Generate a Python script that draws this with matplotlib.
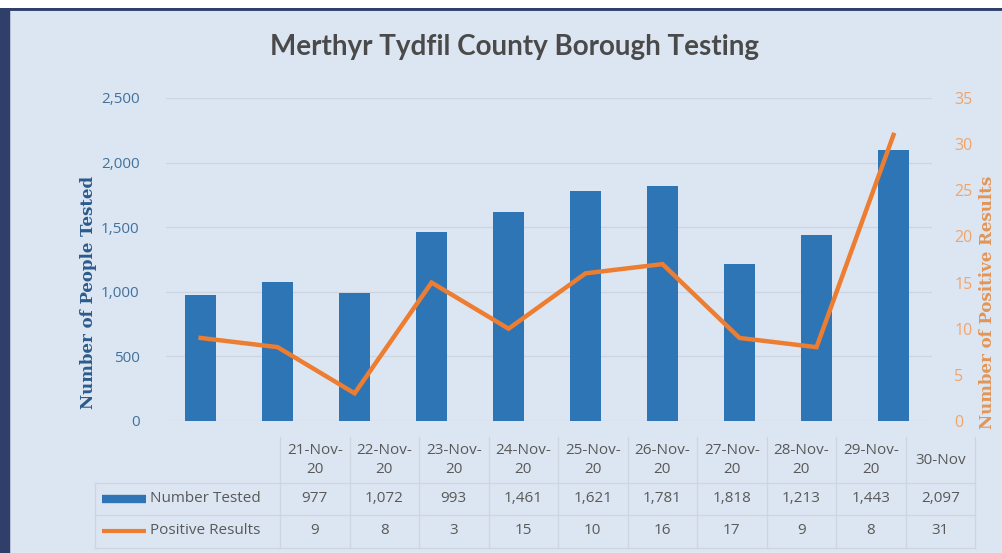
import matplotlib.pyplot as plt
import numpy as np

# data
dates = ["21-Nov-\n20", "22-Nov-\n20", "23-Nov-\n20", "24-Nov-\n20", "25-Nov-\n20",
         "26-Nov-\n20", "27-Nov-\n20", "28-Nov-\n20", "29-Nov-\n20", "30-Nov"]
number_tested = [977, 1072, 993, 1461, 1621, 1781, 1818, 1213, 1443, 2097]
positive_results = [9, 8, 3, 15, 10, 16, 17, 9, 8, 31]

bg = "#dce6f2"
bar_col = "#2e75b6"
line_col = "#ed7d31"
grid_col = "#cdd5e1"
blue_txt = "#41719c"
orange_txt = "#f0a46a"

W, H = 1003, 553
fig = plt.figure(figsize=(W / 100, H / 100), dpi=100)
fig.patch.set_facecolor("white")

# light blue panel with navy border on top/left
panel = fig.add_axes([0, 0, 1, 1 - 8 / H])
panel.set_xlim(0, 1)
panel.set_ylim(0, 1)
panel.axis("off")
panel.add_patch(plt.Rectangle((0, 0), 1, 1, transform=panel.transAxes, color=bg, zorder=0))
panel.axhline(1, color="#2f3f6a", lw=3.5)
panel.axvline(0, color="#2f3f6a", lw=14)

def px(x0, y0, x1, y1):
    return [x0 / W, 1 - y1 / H, (x1 - x0) / W, (y1 - y0) / H]

ax = fig.add_axes(px(166, 98, 932, 421))
ax.set_facecolor("none")
x = np.arange(len(number_tested))
ax.bar(x, number_tested, width=0.41, color=bar_col, zorder=2)
ax.set_xlim(-0.45, 9.5)
ax.set_ylim(0, 2500)
ax.set_yticks(range(0, 2501, 500))
ax.set_yticklabels([f"{v:,}" for v in range(0, 2501, 500)], color=blue_txt,
                   fontsize=11, family="Open Sans")
ax.set_xticks([])
ax.tick_params(axis="y", length=0, pad=19)
ax.grid(axis="y", color=grid_col, lw=1, zorder=0)
for s in ax.spines.values():
    s.set_visible(False)

ax2 = ax.twinx()
ax2.plot(x, positive_results, color=line_col, lw=3.2, zorder=3, solid_joinstyle="miter")
ax2.set_ylim(0, 35)
ax2.set_yticks(range(0, 36, 5))
ax2.set_yticklabels([str(v) for v in range(0, 36, 5)], color=orange_txt,
                    fontsize=11.5, family="Open Sans")
ax2.tick_params(axis="y", length=0, pad=16)
for s in ax2.spines.values():
    s.set_visible(False)

fig.text(89 / W, 1 - 292 / H, "Number of People Tested", rotation=90, ha="center",
         va="center", color="#2b5a8c", fontsize=12, family="DejaVu Serif",
         fontweight="bold")
fig.text(988 / W, 1 - 302 / H, "Number of Positive Results", rotation=90, ha="center",
         va="center", color="#e39556", fontsize=12, family="DejaVu Serif",
         fontweight="bold")

fig.text(515 / W, 1 - 47 / H, "Merthyr Tydfil County Borough Testing", ha="center",
         va="center", fontsize=20, fontweight="bold", color="#4a4a4a", family="Lato")

# data table below the plot
tab = fig.add_axes(px(90, 432, 980, 550))
tab.set_xlim(90, 980)
tab.set_ylim(550, 432)
tab.axis("off")
col0, cw = 280, 69.5
n = len(dates)
for yy in [483, 515, 548]:
    tab.plot([95, col0 + cw * n], [yy, yy], color=grid_col, lw=1)
for i in range(n + 1):
    tab.plot([col0 + cw * i] * 2, [437, 548], color=grid_col, lw=1)
tab.plot([95, 95], [483, 548], color=grid_col, lw=1)

tkw = dict(ha="center", va="center", fontsize=11, color="#595959", family="Open Sans")
for i, d in enumerate(dates):
    cx = col0 + cw * (i + 0.5)
    tab.text(cx, 460, d, linespacing=1.3, **tkw)
    tab.text(cx, 499, f"{number_tested[i]:,}", **tkw)
    tab.text(cx, 531, f"{positive_results[i]}", **tkw)

tab.plot([102, 146], [499, 499], color=bar_col, lw=6, solid_capstyle="butt")
tab.plot([102, 146], [531, 531], color=line_col, lw=3, solid_capstyle="butt")
tab.text(150, 499, "Number Tested", ha="left", va="center", fontsize=11,
         color="#595959", family="Open Sans")
tab.text(150, 531, "Positive Results", ha="left", va="center", fontsize=11,
         color="#595959", family="Open Sans")

fig.savefig("out.png", dpi=100, facecolor=fig.get_facecolor())
